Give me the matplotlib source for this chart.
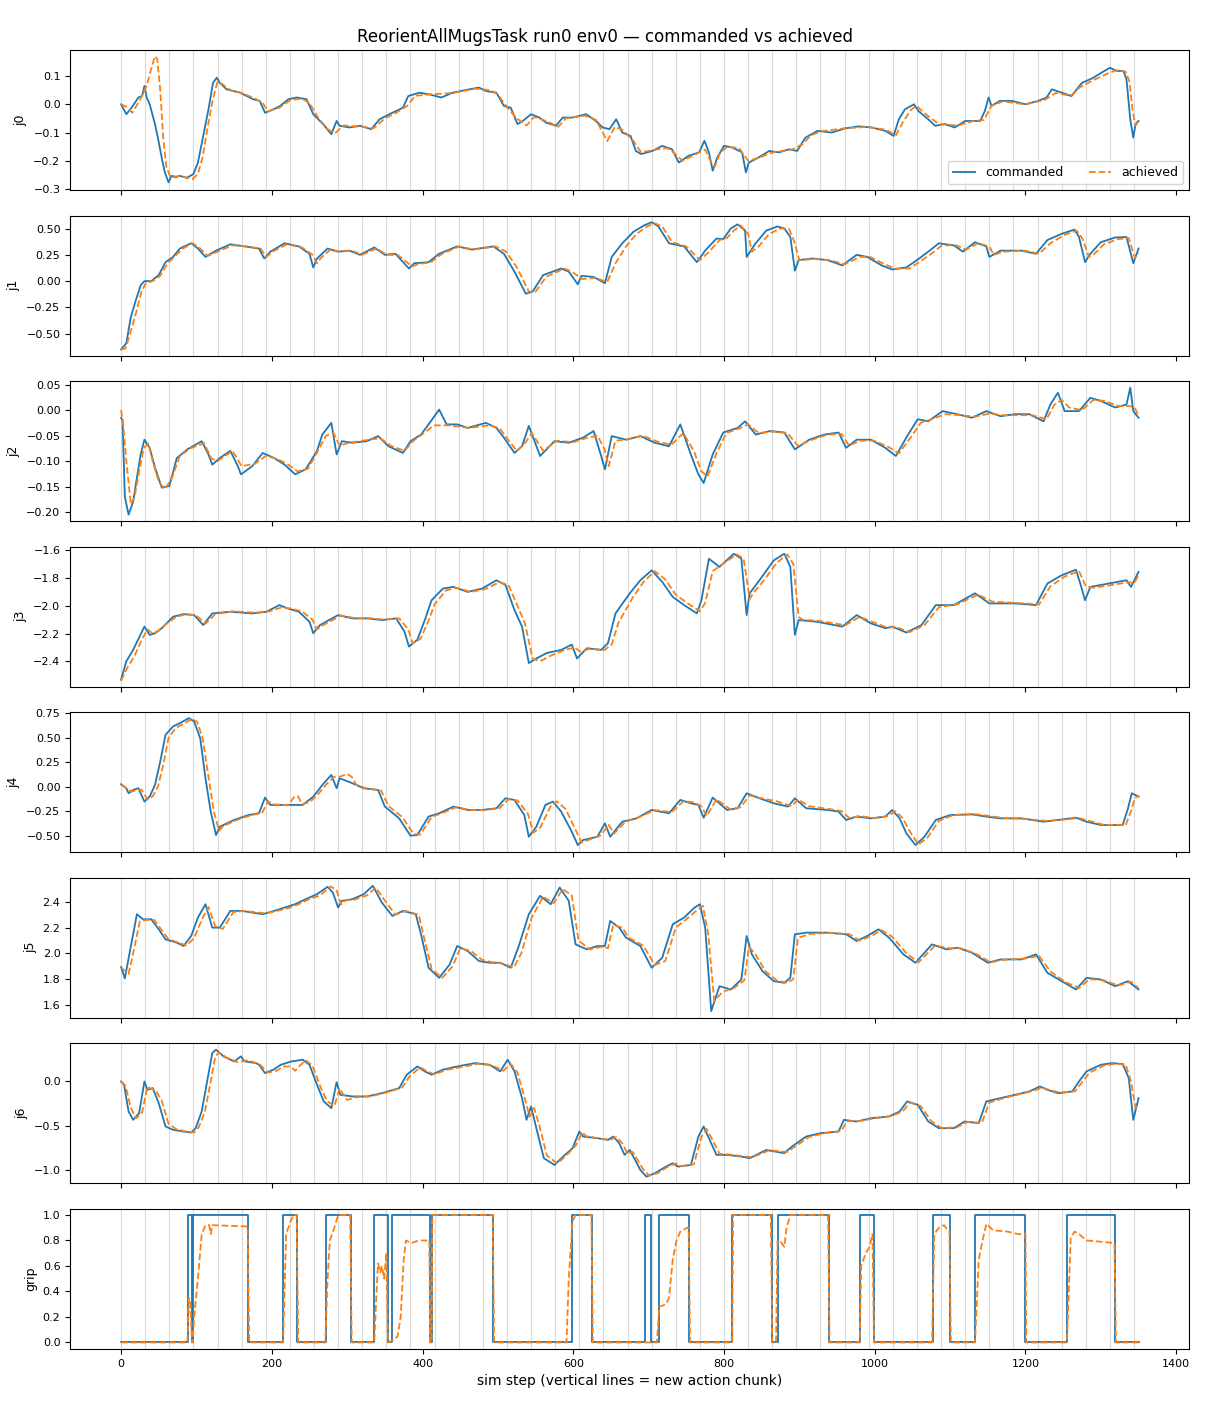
import matplotlib
matplotlib.use("Agg")
import matplotlib.pyplot as plt

# sim steps / chunking
n_steps = 1350
chunk_len = 32

# joint traces: (sim step, value)
j0_cmd = [(0,0.0),(7,-0.035),(14,-0.012),(23,0.024),(28,0.03),(31,0.065),(34,0.024),(38,0.0),(45,-0.07),(49,-0.12),(54,-0.19),(58,-0.24),(63,-0.276),(67,-0.253),(72,-0.258),(78,-0.253),(87,-0.26),(96,-0.247),(102,-0.206),(109,-0.112),(116,-0.018),(122,0.076),(127,0.094),(131,0.076),(140,0.053),(158,0.041),(175,0.018),(184,0.012),(191,-0.03),(202,-0.018),(211,-0.006),(222,0.018),(233,0.024),(246,0.018),(255,-0.035),(268,-0.07),(279,-0.106),(286,-0.059),(290,-0.076),(303,-0.082),(317,-0.076),(332,-0.088),(343,-0.053),(356,-0.035),(374,-0.012),(381,0.029),(396,0.041),(409,0.035),(425,0.024),(440,0.041),(462,0.053),(475,0.059),(484,0.047),(498,0.041),(508,-0.006),(517,-0.012),(526,-0.07),(533,-0.059),(544,-0.035),(555,-0.047),(564,-0.065),(577,-0.076),(586,-0.047),(599,-0.047),(617,-0.035),(630,-0.059),(639,-0.082),(648,-0.088),(657,-0.053),(665,-0.1),(676,-0.112),(683,-0.165),(690,-0.176),(705,-0.165),(718,-0.147),(731,-0.159),(740,-0.206),(753,-0.182),(767,-0.17),(774,-0.129),(780,-0.17),(785,-0.235),(791,-0.188),(800,-0.147),(811,-0.153),(824,-0.17),(829,-0.241),(833,-0.206),(846,-0.188),(860,-0.165),(873,-0.17),(886,-0.159),(897,-0.165),(908,-0.118),(924,-0.094),(943,-0.1),(961,-0.085),(979,-0.078),(996,-0.082),(1014,-0.094),(1025,-0.112),(1032,-0.053),(1040,-0.018),(1052,0.0),(1058,-0.024),(1071,-0.053),(1080,-0.076),(1093,-0.07),(1106,-0.082),(1120,-0.059),(1140,-0.059),(1146,-0.024),(1151,0.024),(1155,-0.006),(1166,0.012),(1182,0.012),(1200,0.0),(1217,0.012),(1228,0.024),(1235,0.053),(1248,0.041),(1261,0.029),(1268,0.053),(1275,0.076),(1288,0.091),(1301,0.112),(1312,0.129),(1321,0.118),(1330,0.118),(1334,0.088),(1339,-0.053),(1343,-0.118),(1346,-0.07),(1350,-0.059)]
j0_ach = [(0,0.0),(8,-0.01),(15,-0.03),(25,0.015),(34,0.065),(41,0.135),(45,0.17),(48,0.16),(52,0.05),(56,-0.12),(60,-0.22),(65,-0.255),(80,-0.255),(95,-0.265),(102,-0.245),(108,-0.19),(115,-0.08),(122,0.02),(128,0.08),(135,0.07),(145,0.05),(160,0.04),(178,0.02),(188,0.005),(195,-0.025),(210,-0.012),(225,0.015),(240,0.02),(250,0.005),(262,-0.05),(275,-0.09),(285,-0.1),(295,-0.075),(320,-0.08),(335,-0.085),(350,-0.05),(365,-0.03),(380,-0.005),(390,0.03),(410,0.035),(440,0.04),(470,0.055),(490,0.05),(500,0.035),(512,-0.01),(525,-0.05),(538,-0.075),(548,-0.045),(565,-0.06),(580,-0.08),(590,-0.05),(615,-0.04),(630,-0.055),(645,-0.13),(655,-0.08),(665,-0.09),(680,-0.13),(690,-0.17),(710,-0.16),(725,-0.155),(735,-0.175),(745,-0.2),(760,-0.18),(775,-0.16),(782,-0.2),(788,-0.22),(795,-0.17),(805,-0.15),(820,-0.155),(832,-0.2),(845,-0.19),(865,-0.17),(890,-0.16),(905,-0.14),(915,-0.11),(930,-0.095),(960,-0.085),(990,-0.08),(1015,-0.09),(1028,-0.11),(1038,-0.06),(1048,-0.02),(1055,-0.005),(1070,-0.04),(1085,-0.07),(1110,-0.075),(1130,-0.06),(1145,-0.055),(1155,-0.005),(1170,0.01),(1200,0.0),(1225,0.015),(1240,0.04),(1260,0.03),(1272,0.06),(1290,0.085),(1310,0.11),(1320,0.12),(1333,0.115),(1338,0.08),(1342,-0.02),(1346,-0.075),(1350,-0.06)]

j1_cmd = [(0,-0.65),(7,-0.59),(13,-0.34),(21,-0.15),(26,-0.04),(31,0.0),(40,0.0),(50,0.057),(59,0.18),(69,0.23),(78,0.31),(93,0.36),(102,0.31),(112,0.23),(126,0.29),(145,0.35),(164,0.33),(183,0.31),(190,0.215),(198,0.28),(217,0.36),(236,0.33),(250,0.26),(255,0.13),(260,0.215),(274,0.31),(288,0.28),(303,0.29),(317,0.25),(336,0.32),(350,0.25),(364,0.26),(382,0.12),(389,0.17),(408,0.18),(422,0.26),(446,0.33),(465,0.3),(494,0.33),(508,0.26),(522,0.09),(537,-0.12),(546,-0.1),(560,0.057),(584,0.12),(594,0.09),(606,-0.03),(611,0.05),(627,0.04),(642,-0.02),(651,0.23),(665,0.36),(680,0.47),(694,0.53),(704,0.56),(713,0.52),(727,0.36),(747,0.33),(764,0.18),(775,0.29),(790,0.405),(799,0.4),(809,0.5),(818,0.54),(828,0.48),(830,0.23),(842,0.36),(856,0.48),(871,0.52),(880,0.5),(888,0.42),(894,0.1),(899,0.2),(918,0.215),(937,0.2),(957,0.15),(976,0.25),(990,0.23),(1009,0.15),(1023,0.11),(1042,0.13),(1057,0.205),(1071,0.28),(1085,0.36),(1105,0.34),(1117,0.28),(1133,0.37),(1148,0.33),(1152,0.23),(1167,0.29),(1195,0.29),(1214,0.26),(1229,0.39),(1248,0.45),(1265,0.49),(1271,0.42),(1279,0.18),(1286,0.26),(1300,0.37),(1319,0.415),(1334,0.42),(1343,0.17),(1350,0.31)]
j1_ach = [(0,-0.65),(6,-0.64),(12,-0.5),(20,-0.3),(27,-0.1),(33,-0.02),(42,0.0),(52,0.05),(62,0.17),(72,0.24),(82,0.31),(95,0.36),(105,0.31),(115,0.24),(128,0.28),(148,0.34),(167,0.33),(185,0.31),(193,0.23),(201,0.28),(220,0.35),(240,0.32),(254,0.25),(260,0.17),(265,0.22),(278,0.3),(292,0.28),(306,0.29),(320,0.25),(339,0.31),(353,0.25),(367,0.25),(386,0.14),(394,0.16),(411,0.18),(426,0.26),(449,0.33),(468,0.3),(497,0.33),(511,0.28),(526,0.12),(541,-0.1),(550,-0.1),(564,0.04),(588,0.12),(598,0.09),(612,0.02),(630,0.03),(645,-0.01),(656,0.17),(670,0.33),(684,0.45),(698,0.52),(708,0.55),(718,0.52),(731,0.37),(750,0.33),(768,0.2),(779,0.27),(794,0.39),(804,0.41),(813,0.48),(822,0.53),(832,0.45),(837,0.28),(846,0.33),(860,0.45),(875,0.5),(886,0.5),(893,0.38),(900,0.2),(920,0.21),(940,0.2),(960,0.16),(980,0.23),(994,0.23),(1013,0.16),(1027,0.12),(1046,0.12),(1061,0.19),(1075,0.26),(1089,0.34),(1108,0.34),(1121,0.3),(1137,0.36),(1152,0.33),(1158,0.25),(1171,0.28),(1199,0.29),(1218,0.26),(1233,0.36),(1252,0.44),(1268,0.48),(1276,0.4),(1284,0.23),(1290,0.25),(1304,0.35),(1323,0.4),(1337,0.41),(1345,0.22),(1350,0.27)]

j2_cmd = [(0,-0.015),(2,-0.02),(5,-0.17),(10,-0.205),(16,-0.18),(21,-0.133),(26,-0.087),(31,-0.058),(38,-0.074),(45,-0.113),(54,-0.152),(64,-0.149),(74,-0.094),(88,-0.077),(107,-0.061),(116,-0.087),(121,-0.107),(131,-0.094),(145,-0.08),(155,-0.11),(159,-0.126),(174,-0.11),(188,-0.084),(203,-0.094),(217,-0.107),(231,-0.126),(245,-0.116),(260,-0.08),(267,-0.048),(279,-0.025),(286,-0.087),(293,-0.061),(307,-0.064),(326,-0.061),(341,-0.051),(355,-0.071),(374,-0.084),(384,-0.061),(398,-0.048),(408,-0.028),(422,0.001),(432,-0.028),(446,-0.028),(460,-0.035),(484,-0.025),(498,-0.035),(508,-0.054),(522,-0.084),(532,-0.071),(541,-0.031),(556,-0.09),(575,-0.061),(594,-0.064),(613,-0.054),(627,-0.041),(637,-0.09),(642,-0.116),(651,-0.051),(670,-0.058),(689,-0.051),(708,-0.064),(727,-0.071),(742,-0.028),(756,-0.087),(766,-0.126),(773,-0.143),(785,-0.087),(799,-0.044),(818,-0.035),(828,-0.022),(842,-0.048),(861,-0.041),(880,-0.044),(894,-0.077),(913,-0.058),(933,-0.048),(952,-0.044),(962,-0.074),(976,-0.058),(995,-0.058),(1014,-0.074),(1028,-0.09),(1043,-0.051),(1057,-0.018),(1071,-0.022),(1090,-0.002),(1109,-0.008),(1129,-0.015),(1148,-0.002),(1167,-0.012),(1186,-0.008),(1205,-0.008),(1224,-0.022),(1233,0.011),(1243,0.034),(1252,-0.002),(1271,-0.002),(1286,0.024),(1300,0.018),(1319,0.005),(1334,0.011),(1339,0.044),(1343,-0.002),(1350,-0.015)]
j2_ach = [(0,0.0),(3,-0.03),(7,-0.1),(13,-0.185),(18,-0.17),(24,-0.12),(30,-0.075),(36,-0.065),(42,-0.1),(50,-0.14),(58,-0.155),(67,-0.135),(78,-0.09),(92,-0.075),(110,-0.065),(120,-0.095),(128,-0.1),(148,-0.08),(160,-0.11),(178,-0.105),(192,-0.09),(206,-0.095),(220,-0.105),(234,-0.12),(248,-0.115),(263,-0.075),(272,-0.05),(282,-0.045),(290,-0.07),(300,-0.065),(320,-0.06),(344,-0.055),(358,-0.07),(376,-0.08),(388,-0.06),(402,-0.045),(415,-0.03),(435,-0.03),(462,-0.035),(488,-0.03),(502,-0.035),(512,-0.055),(525,-0.08),(536,-0.065),(545,-0.045),(560,-0.08),(578,-0.06),(600,-0.063),(617,-0.055),(632,-0.05),(641,-0.075),(647,-0.11),(656,-0.06),(674,-0.057),(692,-0.05),(712,-0.062),(730,-0.068),(746,-0.045),(760,-0.08),(770,-0.12),(778,-0.13),(790,-0.085),(803,-0.045),(822,-0.035),(832,-0.028),(846,-0.045),(865,-0.042),(884,-0.045),(898,-0.07),(917,-0.058),(937,-0.048),(956,-0.047),(966,-0.07),(980,-0.06),(999,-0.06),(1018,-0.072),(1032,-0.085),(1047,-0.055),(1061,-0.025),(1075,-0.018),(1094,-0.008),(1113,-0.01),(1133,-0.013),(1152,-0.007),(1171,-0.01),(1190,-0.01),(1209,-0.01),(1228,-0.018),(1238,0.01),(1248,0.02),(1258,0.005),(1275,0.0),(1290,0.02),(1305,0.018),(1323,0.008),(1338,0.008),(1345,0.005),(1350,-0.012)]

j3_cmd = [(0,-2.533),(7,-2.4),(16,-2.318),(31,-2.15),(38,-2.21),(45,-2.198),(54,-2.162),(69,-2.079),(83,-2.06),(97,-2.067),(109,-2.139),(121,-2.055),(145,-2.043),(174,-2.055),(193,-2.043),(210,-1.995),(221,-2.019),(236,-2.043),(250,-2.115),(255,-2.198),(264,-2.139),(288,-2.067),(307,-2.091),(327,-2.091),(346,-2.103),(365,-2.091),(376,-2.186),(382,-2.294),(393,-2.246),(403,-2.103),(412,-1.96),(427,-1.876),(441,-1.864),(460,-1.9),(479,-1.876),(498,-1.816),(510,-1.85),(522,-2.031),(532,-2.15),(541,-2.413),(551,-2.38),(565,-2.34),(584,-2.318),(598,-2.28),(605,-2.38),(618,-2.306),(637,-2.318),(646,-2.27),(656,-2.055),(675,-1.91),(689,-1.816),(704,-1.744),(718,-1.828),(732,-1.936),(747,-1.995),(764,-2.055),(770,-1.96),(780,-1.661),(794,-1.72),(813,-1.625),(823,-1.661),(830,-2.067),(834,-1.91),(847,-1.816),(866,-1.673),(880,-1.625),(888,-1.72),(894,-2.21),(899,-2.103),(923,-2.115),(957,-2.15),(976,-2.067),(995,-2.127),(1014,-2.162),(1023,-2.15),(1042,-2.193),(1062,-2.139),(1081,-1.995),(1105,-1.995),(1133,-1.91),(1152,-1.983),(1186,-1.983),(1214,-1.995),(1229,-1.84),(1248,-1.78),(1267,-1.74),(1274,-1.864),(1279,-1.96),(1286,-1.864),(1310,-1.84),(1334,-1.816),(1340,-1.864),(1350,-1.756)]
j3_ach = [(0,-2.54),(8,-2.45),(18,-2.36),(28,-2.24),(35,-2.17),(42,-2.2),(50,-2.18),(58,-2.14),(73,-2.08),(87,-2.06),(100,-2.07),(112,-2.13),(125,-2.06),(149,-2.04),(178,-2.05),(197,-2.04),(214,-2.01),(225,-2.02),(240,-2.04),(254,-2.1),(260,-2.17),(268,-2.14),(292,-2.07),(311,-2.09),(331,-2.09),(350,-2.1),(369,-2.09),(381,-2.17),(387,-2.27),(397,-2.24),(407,-2.12),(416,-1.99),(431,-1.89),(445,-1.87),(464,-1.9),(483,-1.88),(502,-1.83),(514,-1.85),(526,-2.0),(536,-2.13),(546,-2.38),(556,-2.4),(570,-2.36),(588,-2.32),(602,-2.3),(609,-2.33),(622,-2.31),(641,-2.32),(651,-2.28),(660,-2.12),(679,-1.94),(693,-1.83),(708,-1.75),(722,-1.81),(736,-1.92),(751,-1.98),(768,-2.04),(775,-1.98),(785,-1.75),(798,-1.7),(817,-1.63),(826,-1.66),(834,-1.95),(840,-1.9),(851,-1.83),(870,-1.69),(884,-1.63),(892,-1.7),(899,-2.08),(904,-2.1),(927,-2.11),(961,-2.14),(980,-2.08),(999,-2.12),(1018,-2.16),(1027,-2.15),(1046,-2.19),(1066,-2.14),(1085,-2.01),(1109,-1.99),(1137,-1.92),(1156,-1.97),(1190,-1.98),(1218,-1.99),(1233,-1.86),(1252,-1.79),(1271,-1.75),(1280,-1.86),(1290,-1.87),(1314,-1.85),(1338,-1.83),(1344,-1.84),(1350,-1.78)]

j4_cmd = [(0,0.024),(7,-0.017),(10,-0.068),(16,-0.034),(23,-0.017),(31,-0.153),(38,-0.102),(45,0.017),(52,0.255),(59,0.528),(69,0.613),(78,0.647),(90,0.698),(97,0.664),(105,0.494),(112,0.085),(119,-0.255),(126,-0.494),(131,-0.409),(150,-0.34),(169,-0.29),(183,-0.272),(191,-0.112),(198,-0.187),(221,-0.187),(241,-0.187),(255,-0.102),(269,0.034),(279,0.119),(286,-0.017),(290,0.085),(307,0.034),(322,-0.017),(341,-0.034),(350,-0.204),(369,-0.324),(384,-0.5),(393,-0.494),(408,-0.306),(422,-0.272),(441,-0.204),(460,-0.238),(479,-0.238),(498,-0.221),(510,-0.119),(522,-0.136),(535,-0.29),(541,-0.511),(551,-0.409),(563,-0.187),(573,-0.153),(584,-0.255),(598,-0.46),(606,-0.596),(613,-0.545),(632,-0.511),(642,-0.375),(649,-0.511),(665,-0.358),(684,-0.324),(704,-0.238),(727,-0.272),(742,-0.136),(756,-0.17),(766,-0.187),(773,-0.317),(785,-0.112),(804,-0.238),(818,-0.221),(830,-0.068),(847,-0.119),(866,-0.17),(885,-0.204),(894,-0.119),(909,-0.221),(937,-0.238),(952,-0.255),(962,-0.34),(976,-0.306),(995,-0.324),(1014,-0.306),(1023,-0.238),(1033,-0.324),(1042,-0.477),(1054,-0.596),(1066,-0.511),(1081,-0.34),(1100,-0.29),(1129,-0.283),(1148,-0.306),(1167,-0.324),(1195,-0.324),(1224,-0.358),(1243,-0.34),(1267,-0.317),(1281,-0.358),(1300,-0.392),(1329,-0.392),(1336,-0.221),(1341,-0.068),(1350,-0.102)]
j4_ach = [(0,0.02),(8,-0.02),(14,-0.05),(20,-0.04),(27,-0.03),(35,-0.13),(42,-0.1),(49,0.0),(56,0.22),(63,0.5),(73,0.6),(83,0.64),(94,0.69),(101,0.66),(108,0.5),(116,0.1),(123,-0.25),(130,-0.45),(136,-0.4),(154,-0.34),(173,-0.29),(187,-0.27),(195,-0.15),(202,-0.18),(222,-0.19),(230,-0.1),(235,-0.1),(240,-0.18),(250,-0.16),(260,-0.09),(272,0.02),(283,0.1),(290,0.1),(300,0.13),(306,0.1),(312,0.02),(326,-0.02),(345,-0.04),(355,-0.2),(373,-0.31),(388,-0.48),(397,-0.49),(412,-0.31),(426,-0.27),(445,-0.21),(464,-0.24),(483,-0.24),(502,-0.22),(514,-0.13),(526,-0.14),(540,-0.28),(547,-0.47),(556,-0.42),(570,-0.2),(578,-0.15),(590,-0.23),(603,-0.44),(611,-0.57),(618,-0.55),(636,-0.5),(647,-0.39),(654,-0.48),(669,-0.36),(688,-0.31),(708,-0.24),(731,-0.26),(746,-0.15),(760,-0.16),(770,-0.2),(777,-0.3),(790,-0.13),(808,-0.23),(822,-0.21),(834,-0.09),(851,-0.12),(870,-0.15),(890,-0.2),(898,-0.13),(913,-0.2),(941,-0.23),(956,-0.25),(966,-0.32),(980,-0.3),(999,-0.32),(1018,-0.3),(1027,-0.25),(1037,-0.32),(1046,-0.45),(1058,-0.59),(1070,-0.52),(1085,-0.35),(1104,-0.29),(1133,-0.28),(1152,-0.3),(1171,-0.32),(1199,-0.33),(1228,-0.35),(1247,-0.34),(1271,-0.32),(1285,-0.35),(1304,-0.39),(1333,-0.39),(1340,-0.25),(1345,-0.12),(1350,-0.09)]

j5_cmd = [(0,1.894),(5,1.805),(11,1.992),(21,2.304),(29,2.265),(40,2.265),(50,2.187),(59,2.109),(74,2.083),(83,2.057),(93,2.135),(102,2.278),(112,2.382),(121,2.2),(131,2.2),(145,2.33),(160,2.33),(174,2.317),(188,2.304),(203,2.33),(217,2.356),(231,2.382),(245,2.421),(260,2.46),(274,2.517),(281,2.473),(288,2.356),(293,2.408),(307,2.421),(322,2.46),(334,2.525),(346,2.395),(360,2.291),(374,2.33),(391,2.304),(398,2.148),(408,1.888),(422,1.81),(436,1.914),(446,2.057),(460,2.018),(475,1.94),(489,1.927),(503,1.927),(517,1.888),(527,2.044),(541,2.304),(556,2.447),(570,2.382),(582,2.512),(594,2.408),(603,2.07),(618,2.031),(632,2.057),(642,2.057),(649,2.252),(661,2.2),(670,2.122),(689,2.057),(704,1.888),(718,1.966),(732,2.226),(747,2.278),(761,2.356),(768,2.382),(775,2.2),(783,1.551),(794,1.745),(809,1.719),(823,1.797),(830,2.135),(837,1.992),(851,1.862),(866,1.784),(880,1.771),(888,1.81),(894,2.148),(909,2.161),(937,2.161),(962,2.148),(976,2.096),(990,2.135),(1005,2.187),(1019,2.122),(1038,1.992),(1054,1.927),(1076,2.07),(1095,2.031),(1110,2.044),(1129,2.005),(1150,1.927),(1167,1.953),(1195,1.953),(1214,1.992),(1229,1.849),(1248,1.784),(1267,1.719),(1281,1.81),(1300,1.797),(1319,1.745),(1336,1.784),(1350,1.719)]
j5_ach = [(0,1.89),(6,1.86),(10,1.84),(16,2.0),(25,2.25),(33,2.26),(44,2.26),(54,2.18),(63,2.11),(78,2.08),(87,2.06),(97,2.12),(107,2.26),(116,2.36),(125,2.21),(135,2.19),(149,2.32),(164,2.33),(178,2.32),(192,2.31),(207,2.33),(221,2.35),(235,2.38),(249,2.42),(264,2.45),(278,2.52),(286,2.49),(292,2.38),(297,2.41),(311,2.42),(326,2.45),(338,2.51),(350,2.41),(364,2.3),(378,2.33),(395,2.3),(403,2.1),(412,1.88),(426,1.81),(440,1.9),(450,2.04),(464,2.02),(479,1.95),(493,1.93),(507,1.92),(521,1.89),(531,2.0),(545,2.28),(560,2.44),(574,2.39),(586,2.5),(598,2.45),(607,2.1),(622,2.03),(636,2.05),(646,2.04),(653,2.22),(665,2.2),(674,2.12),(693,2.06),(708,1.91),(722,1.94),(736,2.2),(751,2.27),(765,2.34),(772,2.37),(779,2.15),(787,1.63),(798,1.7),(813,1.73),(827,1.79),(833,2.05),(841,2.0),(855,1.86),(870,1.79),(884,1.77),(892,1.8),(898,2.12),(913,2.15),(941,2.16),(966,2.15),(980,2.1),(994,2.13),(1009,2.18),(1023,2.13),(1042,2.0),(1058,1.93),(1080,2.06),(1099,2.04),(1114,2.04),(1133,2.0),(1154,1.93),(1171,1.95),(1199,1.96),(1218,1.98),(1233,1.86),(1252,1.78),(1271,1.73),(1285,1.8),(1304,1.79),(1323,1.75),(1340,1.78),(1350,1.73)]

j6_cmd = [(0,0.0),(4,-0.038),(10,-0.341),(16,-0.436),(24,-0.36),(31,0.0),(35,-0.095),(42,-0.076),(50,-0.246),(59,-0.511),(69,-0.549),(83,-0.568),(93,-0.58),(99,-0.53),(107,-0.341),(115,0.038),(121,0.322),(126,0.36),(136,0.284),(150,0.227),(159,0.284),(164,0.227),(179,0.208),(183,0.189),(191,0.095),(202,0.133),(212,0.189),(226,0.227),(241,0.246),(250,0.189),(260,-0.038),(269,-0.227),(279,-0.303),(286,-0.008),(291,-0.152),(307,-0.17),(327,-0.17),(346,-0.133),(369,-0.076),(379,0.076),(393,0.17),(403,0.114),(412,0.076),(427,0.133),(446,0.17),(470,0.208),(489,0.189),(503,0.114),(513,0.246),(522,0.114),(532,-0.189),(538,-0.436),(544,-0.284),(551,-0.53),(561,-0.871),(575,-0.947),(589,-0.833),(599,-0.758),(608,-0.568),(613,-0.625),(632,-0.644),(646,-0.663),(653,-0.625),(661,-0.701),(668,-0.833),(675,-0.777),(689,-1.004),(697,-1.08),(708,-1.042),(723,-0.966),(732,-0.928),(739,-0.966),(756,-0.947),(766,-0.625),(773,-0.511),(780,-0.644),(790,-0.833),(804,-0.833),(823,-0.852),(834,-0.871),(856,-0.777),(880,-0.814),(890,-0.739),(909,-0.625),(928,-0.587),(952,-0.568),(959,-0.436),(976,-0.455),(995,-0.417),(1019,-0.398),(1033,-0.341),(1043,-0.227),(1057,-0.265),(1071,-0.455),(1085,-0.53),(1105,-0.53),(1119,-0.455),(1138,-0.473),(1148,-0.227),(1167,-0.189),(1186,-0.152),(1205,-0.114),(1219,-0.057),(1229,-0.095),(1243,-0.133),(1262,-0.114),(1271,0.0),(1281,0.114),(1300,0.189),(1315,0.208),(1329,0.197),(1337,0.038),(1343,-0.436),(1350,-0.189)]
j6_ach = [(0,0.0),(6,-0.05),(13,-0.3),(20,-0.42),(28,-0.35),(35,-0.06),(39,-0.08),(46,-0.1),(54,-0.22),(63,-0.48),(73,-0.54),(87,-0.57),(97,-0.58),(103,-0.52),(111,-0.35),(119,0.0),(125,0.28),(130,0.33),(140,0.27),(154,0.22),(168,0.24),(183,0.2),(195,0.1),(206,0.12),(216,0.17),(225,0.17),(231,0.12),(236,0.17),(245,0.24),(254,0.18),(264,-0.05),(273,-0.22),(283,-0.28),(290,-0.08),(295,-0.15),(300,-0.21),(311,-0.18),(331,-0.17),(350,-0.13),(373,-0.07),(383,0.06),(397,0.16),(407,0.11),(416,0.08),(431,0.13),(450,0.16),(474,0.2),(493,0.18),(507,0.12),(517,0.2),(526,0.1),(536,-0.2),(542,-0.4),(548,-0.3),(555,-0.5),(565,-0.84),(579,-0.93),(593,-0.82),(603,-0.73),(612,-0.58),(617,-0.62),(636,-0.65),(650,-0.66),(657,-0.63),(665,-0.7),(672,-0.82),(679,-0.8),(693,-1.0),(701,-1.07),(712,-1.04),(727,-0.96),(736,-0.93),(743,-0.96),(760,-0.94),(770,-0.63),(777,-0.54),(784,-0.65),(794,-0.82),(808,-0.83),(827,-0.85),(838,-0.86),(860,-0.78),(884,-0.8),(894,-0.74),(913,-0.63),(932,-0.59),(956,-0.56),(963,-0.45),(980,-0.45),(999,-0.42),(1023,-0.39),(1037,-0.34),(1047,-0.24),(1061,-0.28),(1075,-0.45),(1089,-0.53),(1109,-0.52),(1123,-0.46),(1142,-0.47),(1152,-0.24),(1171,-0.19),(1190,-0.15),(1209,-0.11),(1223,-0.07),(1233,-0.1),(1247,-0.13),(1266,-0.11),(1275,-0.01),(1285,0.1),(1304,0.18),(1319,0.2),(1333,0.19),(1340,0.0),(1346,-0.3),(1350,-0.26)]

# gripper: commanded is a step signal (value holds until next entry)
grip_cmd = [(0,0),(89,1),(94,0),(96,1),(169,0),(215,1),(234,0),(272,1),(305,0),(336,1),(354,0),(360,1),(410,0),(412,1),(494,0),(598,1),(625,0),(695,1),(703,0),(714,1),(754,0),(811,1),(863,0),(871,1),(939,0),(981,1),(999,0),(1077,1),(1100,0),(1133,1),(1200,0),(1255,1),(1319,0),(1350,0)]
grip_ach = [(0,0),(88,0),(90,0.35),(92,0.3),(94,0.0),(95,0),(97,0.2),(102,0.5),(107,0.85),(112,0.92),(117,0.92),(119,0.85),(121,0.92),(168,0.91),(170,0),(215,0),(219,0.85),(225,0.95),(229,1.0),(233,1.0),(235,0),(271,0),(274,0.5),(277,0.8),(280,0.85),(283,0.9),(288,1.0),(304,1.0),(306,0),(336,0),(339,0.4),(341,0.62),(344,0.55),(346,0.6),(349,0.5),(352,0.7),(354,0),(362,0.02),(367,0.05),(371,0.2),(375,0.65),(378,0.8),(385,0.78),(395,0.8),(409,0.8),(410,0),(412,0),(413,1.0),(493,1.0),(495,0),(591,0),(594,0.5),(599,0.95),(603,1.0),(624,1.0),(626,0),(711,0),(714,0.28),(723,0.3),(727,0.35),(732,0.65),(737,0.8),(742,0.87),(751,0.9),(753,0.9),(755,0),(811,0),(812,1.0),(862,1.0),(864,0),(869,0),(871,0.8),(874,0.8),(880,0.75),(883,0.9),(888,1.0),(938,1.0),(940,0),(980,0),(982,0.6),(988,0.7),(993,0.75),(997,0.85),(999,0),(1076,0),(1079,0.85),(1085,0.9),(1092,0.92),(1097,0.88),(1099,0.88),(1101,0),(1133,0),(1138,0.65),(1143,0.8),(1148,0.93),(1157,0.88),(1176,0.87),(1190,0.85),(1200,0.85),(1201,0),(1255,0),(1260,0.82),(1265,0.87),(1271,0.85),(1281,0.8),(1300,0.79),(1318,0.78),(1320,0),(1350,0)]

labels = ["j0", "j1", "j2", "j3", "j4", "j5", "j6", "grip"]
cmd_series = [j0_cmd, j1_cmd, j2_cmd, j3_cmd, j4_cmd, j5_cmd, j6_cmd, grip_cmd]
ach_series = [j0_ach, j1_ach, j2_ach, j3_ach, j4_ach, j5_ach, j6_ach, grip_ach]
ylims = [(-0.304, 0.192), (-0.71, 0.624), (-0.218, 0.057), (-2.584, -1.573),
         (-0.67, 0.76), (1.499, 2.589), (-1.156, 0.435), (-0.05, 1.05)]

fig, axes = plt.subplots(8, 1, figsize=(12.1, 14.08), dpi=100, sharex=True)
fig.subplots_adjust(left=0.058, right=0.983, top=0.9645, bottom=0.042, hspace=0.18)

for i, ax in enumerate(axes):
    for s in range(0, n_steps, chunk_len):
        ax.axvline(s, color="#d9d9d9", lw=0.8, zorder=0)
    ct = [p[0] for p in cmd_series[i]]
    cv = [p[1] for p in cmd_series[i]]
    at = [p[0] for p in ach_series[i]]
    av = [p[1] for p in ach_series[i]]
    if labels[i] == "grip":
        ax.plot(ct, cv, color="#1f77b4", lw=1.3, drawstyle="steps-post", label="commanded")
    else:
        ax.plot(ct, cv, color="#1f77b4", lw=1.3, label="commanded")
    ax.plot(at, av, color="#ff7f0e", lw=1.3, ls="--", label="achieved")
    ax.set_ylim(*ylims[i])
    ax.set_ylabel(labels[i], fontsize=9)
    ax.tick_params(labelsize=8)

axes[0].legend(loc="lower right", ncol=2, fontsize=9, handlelength=1.8)
axes[-1].set_xlabel("sim step (vertical lines = new action chunk)", fontsize=10)
fig.suptitle("ReorientAllMugsTask run0 env0 — commanded vs achieved", fontsize=12, y=0.98)

fig.savefig("out.png")
